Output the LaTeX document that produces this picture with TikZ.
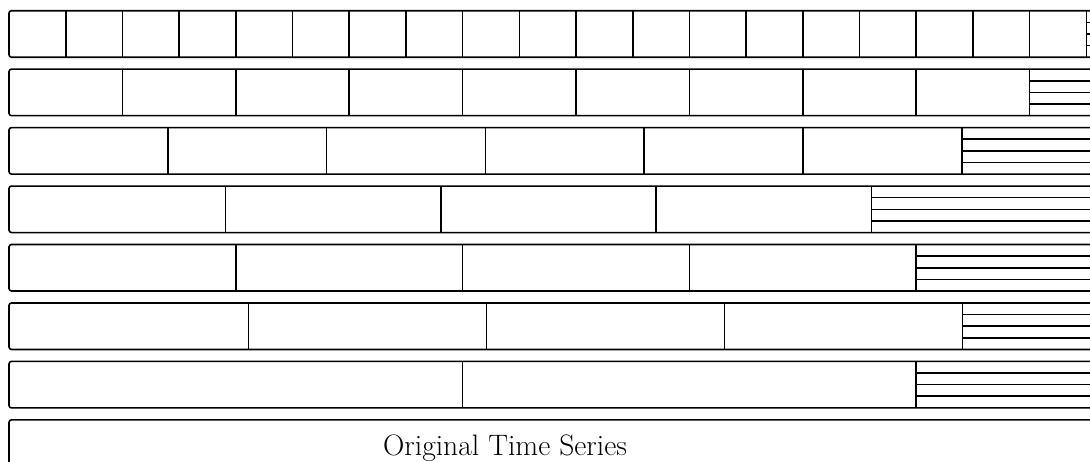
\documentclass[tikz,border=0pt]{standalone}
\begin{document}
\begin{tikzpicture}[x=1pt,y=-1pt,line width=1.6pt,
  rowbox/.style={draw,rounded corners=2.5pt},
  label/.style={font=\fontsize{29.6}{35}\selectfont,anchor=base,inner sep=0pt}]
\clip (0,0) rectangle (1090,461);
\fill[white] (0,0) rectangle (1090,461);
\foreach \i/\hs/\divs in {%
  1/1086.3/{65.7,122.4,179.1,235.8,292.5,349.2,405.9,462.6,519.3,576,632.7,689.4,746.1,802.8,859.5,916.2,972.9,1029.6},
  2/1029.6/{122.4,235.8,349.2,462.6,576,689.4,802.8,916.2},
  3/961.8/{167.8,326.6,485.4,644.2,803},
  4/871.5/{225.5,441,656},
  5/916.2/{235.8,462.6,689.4},
  6/962.3/{248.5,486.5,724.5},
  7/916.2/{462.6}}{
  \pgfmathsetmacro{\top}{10.7+58.45*(\i-1)}
  \pgfmathsetmacro{\bot}{\top+46.5}
  \draw[rowbox] (9,\top) rectangle (1110,\bot);
  \foreach \x in \divs {\draw (\x,\top) -- (\x,\bot);}
  \draw (\hs,\top) -- (\hs,\bot);
  \foreach \j in {1,2,3} {
    \pgfmathsetmacro{\yy}{\top+\j*46.5/4}
    \draw (\hs,\yy) -- (1110,\yy);
  }
}
\draw[rowbox] (9,419.85) rectangle (1110,490);
\node[label] (ots) at (505,455) {Original Time Series};
\end{tikzpicture}
\end{document}
